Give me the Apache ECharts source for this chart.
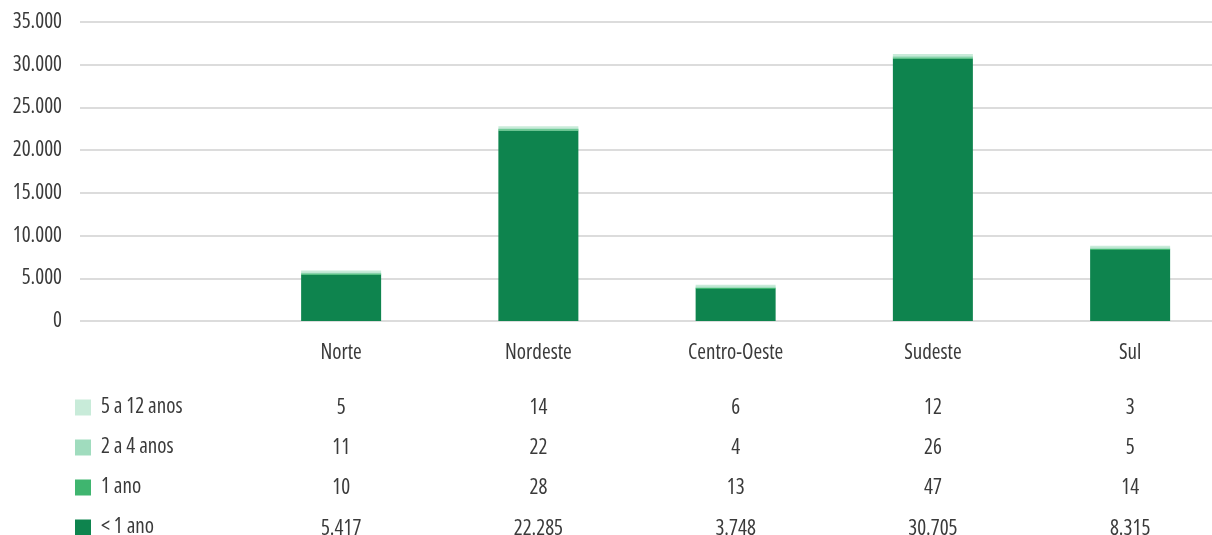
<!DOCTYPE html>
<html><head><meta charset="utf-8">
<script src="https://cdn.jsdelivr.net/npm/echarts@6/dist/echarts.min.js"></script>
<style>html,body{margin:0;padding:0;background:#fff}#c{width:1212px;height:535px}</style>
</head><body><div id="c"></div>
<script>
const categories = ['Norte', 'Nordeste', 'Centro-Oeste', 'Sudeste', 'Sul'];
const menos1ano = [5417, 22285, 3748, 30705, 8315];
const ano1 = [10, 28, 13, 47, 14];
const anos2a4 = [11, 22, 4, 26, 5];
const anos5a12 = [5, 14, 6, 12, 3];
const yMin = 0, yMax = 35000, yStep = 5000;

const FONT = '"Open Sans", sans-serif';
const FSTYLE = 'condensed';
const FS = 21;
const TXT = '#3a3a3a';
const C = { m1: '#0e844e', a1: '#3fb56f', a24: '#a0dcbe', a512: '#c8ebd9' };
const fmt = n => String(n).replace(/\B(?=(\d{3})+(?!\d))/g, '.');
const txt = extra => Object.assign({ fontSize: FS, fontFamily: FONT, fontStyle: FSTYLE, color: TXT }, extra);

const TOP = 22, BOTTOM = 214;
const tableRows = [
  { arr: anos5a12, offset: 55 },
  { arr: anos2a4, offset: 94.5 },
  { arr: ano1, offset: 134.5 },
  { arr: menos1ano, offset: 175.5 }
];

const xAxes = [
  { gridIndex: 0, type: 'category', data: [''], show: false },
  { gridIndex: 1, type: 'category', data: categories,
    axisLine: { show: false }, axisTick: { show: false },
    axisLabel: txt({ interval: 0, margin: 22 }) }
];
tableRows.forEach(r => {
  xAxes.push({
    gridIndex: 1, type: 'category', data: categories, position: 'bottom', offset: r.offset,
    axisLine: { show: false }, axisTick: { show: false },
    axisLabel: txt({ interval: 0, margin: 22, formatter: (v, i) => fmt(r.arr[i]) })
  });
});

const chart = echarts.init(document.getElementById('c'), null, { renderer: 'canvas' });
chart.setOption({
  animation: false,
  backgroundColor: '#fff',
  grid: [
    { left: 80, right: 0, top: TOP, bottom: BOTTOM, outerBoundsMode: 'none' },
    { left: 242.5, width: 986.25, top: TOP, bottom: BOTTOM, outerBoundsMode: 'none' }
  ],
  xAxis: xAxes,
  yAxis: [
    { gridIndex: 0, type: 'value', min: yMin, max: yMax, interval: yStep,
      axisLine: { show: false }, axisTick: { show: false },
      axisLabel: txt({ margin: 18, formatter: v => fmt(v) }),
      splitLine: { lineStyle: { color: '#dcdcdc', width: 2 } } },
    { gridIndex: 1, type: 'value', min: yMin, max: yMax, interval: yStep, show: false,
      splitLine: { show: false } }
  ],
  legend: {
    data: ['5 a 12 anos', '2 a 4 anos', '1 ano', '< 1 ano'],
    orient: 'vertical', left: 75, top: 397, width: 200, height: 220, padding: 0,
    itemWidth: 16, itemHeight: 16, itemGap: 19, icon: 'rect', selectedMode: false,
    textStyle: txt({ padding: [0, 0, 0, 5] })
  },
  series: [
    { name: '< 1 ano', type: 'bar', stack: 't', xAxisIndex: 1, yAxisIndex: 1, barWidth: 80,
      data: menos1ano, itemStyle: { color: C.m1 }, z: 2 },
    { name: '1 ano', type: 'bar', stack: 't', xAxisIndex: 1, yAxisIndex: 1, barWidth: 80,
      data: ano1, itemStyle: { color: C.a1 }, barMinHeight: 1, z: 5 },
    { name: '2 a 4 anos', type: 'bar', stack: 't', xAxisIndex: 1, yAxisIndex: 1, barWidth: 80,
      data: anos2a4, itemStyle: { color: C.a24 }, barMinHeight: 2, z: 4 },
    { name: '5 a 12 anos', type: 'bar', stack: 't', xAxisIndex: 1, yAxisIndex: 1, barWidth: 80,
      data: anos5a12, itemStyle: { color: C.a512 }, barMinHeight: 4, z: 3 }
  ]
});
</script></body></html>
